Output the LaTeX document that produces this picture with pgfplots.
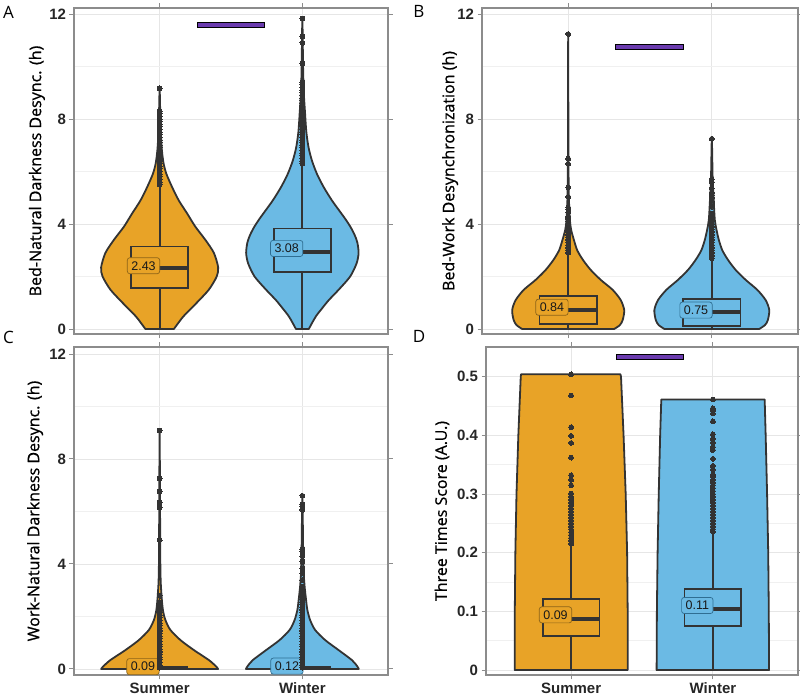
\documentclass[border=0pt]{standalone}
\usepackage{fontspec}
\setmainfont{Open Sans}
\newfontfamily\arialfam{Liberation Sans}
\newfontfamily\labfam[FakeBold=0.8]{Open Sans}
\usepackage{pgfplots}
\pgfplotsset{compat=1.18}

\definecolor{sumc}{HTML}{E8A327}
\definecolor{winc}{HTML}{6BBAE4}
\definecolor{sumd}{HTML}{8C6418}
\definecolor{wind}{HTML}{2F6E92}
\definecolor{purp}{HTML}{6A3BAE}
\definecolor{dk}{HTML}{333333}
\definecolor{bordc}{HTML}{8C8C8C}
\definecolor{gridc}{HTML}{E6E6E6}
\definecolor{gridm}{HTML}{F0F0F0}

\newcommand\ticklab{\arialfam\bfseries\fontsize{15}{15}\selectfont}
\newcommand\labfont{\labfam\fontsize{16}{16}\selectfont}

\tikzset{
 vio/.style={draw=dk, line width=1.8pt, line join=round, smooth, tension=0.45},
 bx/.style={draw=dk, line width=1.8pt},
 wh/.style={draw=dk, line width=1.8pt},
 md/.style={draw=dk, line width=4pt},
 outl/.style={only marks, mark=*, mark size=2.4pt, mark options={draw=dk, fill=dk, line width=0pt}},
 lab/.style={font=\arialfam\fontsize{12.5}{12.5}\selectfont, rounded corners=2.5pt, inner xsep=4pt, inner ysep=3.6pt, line width=0.7pt, text=black!90},
 sig/.style={fill=purp, draw=black, line width=1pt},
}

\pgfplotsset{
 panel/.style={
  scale only axis, anchor=south west,
  xmin=0.4, xmax=2.6, xtick={1,2},
  axis line style={draw=bordc, line width=1.2pt},
  tick align=outside, major tick length=4.5pt, minor tick length=0pt,
  tick style={draw=bordc, line width=1pt},
  xmajorgrids, ymajorgrids, yminorgrids,
  major grid style={draw=gridc, line width=0.9pt},
  minor grid style={draw=gridm, line width=0.6pt},
  tick label style={font=\ticklab, text=black!85},
  /pgf/number format/assume math mode=true,
  ylabel style={font=\labfont, anchor=center},
 },
 hrs/.style={ytick={0,4,8,12}, minor ytick={2,6,10}},
}

\begin{document}
\begin{tikzpicture}
\useasboundingbox (0,0) rectangle (800pt,698pt);

% ---------------- Panel A ----------------
\begin{axis}[panel, hrs, at={(74pt,364pt)}, width=314pt, height=326pt,
  ymin=-0.19, ymax=12.23, xticklabels={,},
  ylabel={Bed-Natural Darkness Desync. (h)},
  ylabel style={at={(axis description cs:-0.118,0.5)}}]
\addplot[vio, fill=sumc] coordinates {(0.90,0) (0.835,0.47) (0.74,1.0) (0.655,1.5) (0.60,2.0) (0.59,2.35) (0.62,2.9) (0.68,3.4) (0.75,3.9) (0.807,4.4) (0.866,4.9) (0.912,5.4) (0.952,5.9) (0.972,6.3) (0.984,6.8) (0.992,7.5) (0.996,8.3) (1,9.17) (1.004,8.3) (1.008,7.5) (1.016,6.8) (1.028,6.3) (1.048,5.9) (1.088,5.4) (1.134,4.9) (1.193,4.4) (1.25,3.9) (1.32,3.4) (1.38,2.9) (1.41,2.35) (1.40,2.0) (1.345,1.5) (1.26,1.0) (1.165,0.47) (1.10,0)} -- cycle;
\addplot[vio, fill=winc] coordinates {(1.955,0) (1.93,0.25) (1.903,0.5) (1.86,0.8) (1.815,1.1) (1.745,1.5) (1.665,2.0) (1.62,2.5) (1.606,2.9) (1.615,3.3) (1.635,3.6) (1.664,3.9) (1.70,4.2) (1.74,4.5) (1.793,4.9) (1.85,5.4) (1.897,5.9) (1.932,6.4) (1.956,6.9) (1.972,7.5) (1.982,8.3) (1.99,9.0) (1.995,10) (2,11.85) (2.005,10) (2.01,9.0) (2.018,8.3) (2.028,7.5) (2.044,6.9) (2.068,6.4) (2.103,5.9) (2.15,5.4) (2.207,4.9) (2.26,4.5) (2.30,4.2) (2.336,3.9) (2.365,3.6) (2.385,3.3) (2.394,2.9) (2.38,2.5) (2.335,2.0) (2.255,1.5) (2.185,1.1) (2.14,0.8) (2.097,0.5) (2.07,0.25) (2.045,0)} -- cycle;
% whiskers
\addplot[wh] coordinates {(1,0) (1,1.55)};
\addplot[wh] coordinates {(1,3.14) (1,5.5)};
\addplot[wh] coordinates {(2,0) (2,2.18)};
\addplot[wh] coordinates {(2,3.83) (2,6.3)};
% boxes
\addplot[bx, fill=sumc] coordinates {(0.8,1.55) (1.2,1.55) (1.2,3.14) (0.8,3.14)} -- cycle;
\addplot[md] coordinates {(0.8,2.31) (1.2,2.31)};
\addplot[bx, fill=winc] coordinates {(1.8,2.18) (2.2,2.18) (2.2,3.83) (1.8,3.83)} -- cycle;
\addplot[md] coordinates {(1.8,2.95) (2.2,2.95)};
% outliers
\addplot[outl] coordinates {(1,5.5) (1,5.6) (1,5.7) (1,5.8) (1,5.9) (1,6.0) (1,6.1) (1,6.2) (1,6.3) (1,6.4) (1,6.5) (1,6.6) (1,6.7) (1,6.8) (1,6.9) (1,7.0) (1,7.1) (1,7.2) (1,7.3) (1,7.4) (1,7.5) (1,7.6) (1,7.7) (1,7.8) (1,7.9) (1,8.0) (1,8.1) (1,8.2) (1,8.3) (1,9.17)};
\addplot[outl] coordinates {(2,6.3) (2,6.4) (2,6.5) (2,6.6) (2,6.7) (2,6.8) (2,6.9) (2,7.0) (2,7.1) (2,7.2) (2,7.3) (2,7.4) (2,7.5) (2,7.6) (2,7.7) (2,7.8) (2,7.9) (2,8.0) (2,8.1) (2,8.2) (2,8.3) (2,8.4) (2,8.5) (2,8.6) (2,8.7) (2,8.8) (2,8.9) (2,9.0) (2,9.1) (2,9.2) (2,9.3) (2,9.4) (2,10.12) (2,10.9) (2,11.14) (2,11.83)};
% significance bar
\addplot[sig] coordinates {(1.265,11.48) (1.735,11.48) (1.735,11.68) (1.265,11.68)} -- cycle;
\node[lab, fill=sumc, draw=sumd] at (axis cs:0.887,2.41) {2.43};
\node[lab, fill=winc, draw=wind] at (axis cs:1.89,3.07) {3.08};
\end{axis}

% ---------------- Panel B ----------------
\begin{axis}[panel, hrs, at={(482pt,364pt)}, width=316pt, height=326pt,
  ymin=-0.19, ymax=12.23, xticklabels={,},
  ylabel={Bed-Work Desynchronization (h)},
  ylabel style={at={(axis description cs:-0.101,0.5)}}]
\addplot[vio, fill=sumc] coordinates {(0.68,0) (0.64,0.15) (0.62,0.35) (0.61,0.72) (0.634,1.1) (0.69,1.49) (0.773,1.87) (0.843,2.25) (0.897,2.63) (0.937,3.0) (0.96,3.39) (0.979,3.77) (0.988,4.15) (0.995,5.0) (0.998,6.5) (1,11.24) (1.002,6.5) (1.005,5.0) (1.012,4.15) (1.021,3.77) (1.04,3.39) (1.063,3.0) (1.103,2.63) (1.157,2.25) (1.227,1.87) (1.31,1.49) (1.366,1.1) (1.39,0.72) (1.38,0.35) (1.36,0.15) (1.32,0)} -- cycle;
\addplot[vio, fill=winc] coordinates {(1.67,0) (1.63,0.15) (1.61,0.34) (1.60,0.72) (1.625,1.1) (1.683,1.49) (1.764,1.87) (1.834,2.25) (1.887,2.63) (1.927,3.0) (1.951,3.39) (1.967,3.77) (1.979,4.15) (1.986,4.8) (1.994,5.7) (2,7.25) (2.006,5.7) (2.014,4.8) (2.021,4.15) (2.033,3.77) (2.049,3.39) (2.073,3.0) (2.113,2.63) (2.166,2.25) (2.236,1.87) (2.317,1.49) (2.375,1.1) (2.40,0.72) (2.39,0.34) (2.37,0.15) (2.33,0)} -- cycle;
\addplot[wh] coordinates {(1,0) (1,0.19)};
\addplot[wh] coordinates {(1,1.26) (1,2.85)};
\addplot[wh] coordinates {(2,0) (2,0.11)};
\addplot[wh] coordinates {(2,1.14) (2,2.69)};
\addplot[bx, fill=sumc] coordinates {(0.8,0.19) (1.2,0.19) (1.2,1.26) (0.8,1.26)} -- cycle;
\addplot[md] coordinates {(0.8,0.72) (1.2,0.72)};
\addplot[bx, fill=winc] coordinates {(1.8,0.11) (2.2,0.11) (2.2,1.14) (1.8,1.14)} -- cycle;
\addplot[md] coordinates {(1.8,0.63) (2.2,0.63)};
\addplot[outl] coordinates {(1,2.9) (1,3.0) (1,3.1) (1,3.2) (1,3.3) (1,3.4) (1,3.5) (1,3.6) (1,3.7) (1,3.8) (1,3.9) (1,4.0) (1,4.1) (1,4.2) (1,4.28) (1,4.45) (1,4.56) (1,4.63) (1,5.04) (1,5.40) (1,6.29) (1,6.49) (1,11.24)};
\addplot[outl] coordinates {(2,2.7) (2,2.8) (2,2.9) (2,3.0) (2,3.1) (2,3.2) (2,3.3) (2,3.4) (2,3.5) (2,3.6) (2,3.7) (2,3.8) (2,3.9) (2,4.0) (2,4.1) (2,4.2) (2,4.3) (2,4.4) (2,4.66) (2,4.85) (2,5.0) (2,5.1) (2,5.2) (2,5.36) (2,5.6) (2,5.71) (2,7.25)};
\addplot[sig] coordinates {(1.328,10.63) (1.80,10.63) (1.80,10.84) (1.328,10.84)} -- cycle;
\node[lab, fill=sumc, draw=sumd] at (axis cs:0.887,0.83) {0.84};
\node[lab, fill=winc, draw=wind] at (axis cs:1.89,0.72) {0.75};
\end{axis}

% ---------------- Panel C ----------------
\begin{axis}[panel, hrs, at={(74pt,23pt)}, width=314pt, height=328pt,
  ymin=-0.229, ymax=12.267, xticklabels={Summer,Winter},
  ylabel={Work-Natural Darkness Desync. (h)},
  ylabel style={at={(axis description cs:-0.124,0.5)}}]
\addplot[vio, fill=sumc] coordinates {(0.59,0) (0.605,0.1) (0.655,0.34) (0.76,0.72) (0.854,1.1) (0.925,1.49) (0.96,1.87) (0.977,2.25) (0.988,2.9) (0.995,4) (1,9.05) (1.005,4) (1.012,2.9) (1.023,2.25) (1.04,1.87) (1.075,1.49) (1.146,1.1) (1.24,0.72) (1.345,0.34) (1.395,0.1) (1.41,0)} -- cycle;
\addplot[vio, fill=winc] coordinates {(1.605,0) (1.615,0.1) (1.653,0.34) (1.746,0.72) (1.84,1.1) (1.911,1.49) (1.946,1.87) (1.965,2.25) (1.974,2.63) (1.985,3.2) (1.993,4) (2,6.6) (2.007,4) (2.015,3.2) (2.026,2.63) (2.035,2.25) (2.054,1.87) (2.089,1.49) (2.16,1.1) (2.254,0.72) (2.347,0.34) (2.385,0.1) (2.395,0)} -- cycle;
\addplot[md] coordinates {(0.8,0.03) (1.2,0.03)};
\addplot[md] coordinates {(1.8,0.03) (2.2,0.03)};
\addplot[outl] coordinates {(1,0.05) (1,0.15) (1,0.25) (1,0.35) (1,0.45) (1,0.55) (1,0.65) (1,0.75) (1,0.85) (1,0.95) (1,1.05) (1,1.15) (1,1.25) (1,1.35) (1,1.45) (1,1.55) (1,1.65) (1,1.75) (1,1.85) (1,1.95) (1,2.05) (1,2.15) (1,2.25) (1,2.35) (1,2.45) (1,2.55) (1,2.79) (1,4.91) (1,6.15) (1,6.34) (1,6.76) (1,7.26) (1,9.08)};
\addplot[outl] coordinates {(2,0.05) (2,0.15) (2,0.25) (2,0.35) (2,0.45) (2,0.55) (2,0.65) (2,0.75) (2,0.85) (2,0.95) (2,1.05) (2,1.15) (2,1.25) (2,1.35) (2,1.45) (2,1.55) (2,1.65) (2,1.75) (2,1.85) (2,1.95) (2,2.05) (2,2.15) (2,2.25) (2,2.35) (2,2.45) (2,2.55) (2,2.65) (2,2.75) (2,2.85) (2,2.95) (2,3.05) (2,3.14) (2,3.39) (2,3.64) (2,3.83) (2,4.09) (2,4.3) (2,4.47) (2,4.57) (2,6.06) (2,6.18) (2,6.27) (2,6.6)};
\node[lab, fill=sumc, draw=sumd] at (axis cs:0.883,0.09) {0.09};
\node[lab, fill=winc, draw=wind] at (axis cs:1.892,0.11) {0.12};
\end{axis}

% ---------------- Panel D ----------------
\begin{axis}[panel, at={(486pt,23pt)}, width=312pt, height=328pt,
  ymin=-0.0085, ymax=0.5506, xticklabels={Summer,Winter},
  ytick={0,0.1,0.2,0.3,0.4,0.5}, yticklabels={0,0.1,0.2,0.3,0.4,0.5},
  minor ytick={0.05,0.15,0.25,0.35,0.45,0.55},
  ylabel={Three Times Score (A.U.)},
  ylabel style={at={(axis description cs:-0.141,0.5)}}]
\addplot[draw=dk, line width=1.8pt, line join=round, fill=sumc] coordinates {(0.602,0) (0.603,0.1) (0.607,0.2) (0.615,0.3) (0.628,0.4) (0.645,0.5) (0.647,0.504) (1.348,0.504) (1.352,0.5) (1.37,0.4) (1.385,0.3) (1.395,0.2) (1.399,0.1) (1.40,0)} -- cycle;
\addplot[draw=dk, line width=1.8pt, line join=round, fill=winc] coordinates {(1.603,0) (1.605,0.1) (1.61,0.2) (1.618,0.3) (1.628,0.4) (1.636,0.461) (2.365,0.461) (2.372,0.4) (2.382,0.3) (2.39,0.2) (2.394,0.1) (2.396,0)} -- cycle;
\addplot[wh] coordinates {(1,0) (1,0.0585)};
\addplot[wh] coordinates {(1,0.121) (1,0.213)};
\addplot[wh] coordinates {(2,0) (2,0.075)};
\addplot[wh] coordinates {(2,0.1386) (2,0.236)};
\addplot[bx, fill=sumc] coordinates {(0.8,0.0585) (1.2,0.0585) (1.2,0.121) (0.8,0.121)} -- cycle;
\addplot[md] coordinates {(0.8,0.0864) (1.2,0.0864)};
\addplot[bx, fill=winc] coordinates {(1.8,0.075) (2.2,0.075) (2.2,0.1386) (1.8,0.1386)} -- cycle;
\addplot[md] coordinates {(1.8,0.1045) (2.2,0.1045)};
\addplot[outl] coordinates {(1,0.215) (1,0.22) (1,0.225) (1,0.23) (1,0.235) (1,0.24) (1,0.245) (1,0.25) (1,0.255) (1,0.26) (1,0.265) (1,0.27) (1,0.275) (1,0.28) (1,0.285) (1,0.29) (1,0.295) (1,0.301) (1,0.315) (1,0.324) (1,0.332) (1,0.362) (1,0.387) (1,0.399) (1,0.414) (1,0.468) (1,0.504)};
\addplot[outl] coordinates {(2,0.236) (2,0.24) (2,0.245) (2,0.25) (2,0.255) (2,0.26) (2,0.265) (2,0.27) (2,0.275) (2,0.28) (2,0.285) (2,0.29) (2,0.295) (2,0.30) (2,0.305) (2,0.31) (2,0.315) (2,0.32) (2,0.324) (2,0.33) (2,0.333) (2,0.342) (2,0.348) (2,0.36) (2,0.375) (2,0.38) (2,0.388) (2,0.394) (2,0.402) (2,0.424) (2,0.4375) (2,0.442) (2,0.446) (2,0.461)};
\addplot[sig] coordinates {(1.318,0.5295) (1.795,0.5295) (1.795,0.5386) (1.318,0.5386)} -- cycle;
\node[lab, fill=sumc, draw=sumd] at (axis cs:0.89,0.094) {0.09};
\node[lab, fill=winc, draw=wind] at (axis cs:1.89,0.11) {0.11};
\end{axis}

% panel letters
\node[font=\fontsize{17}{17}\selectfont] at (8.5pt,686pt) {A};
\node[font=\fontsize{17}{17}\selectfont] at (419pt,687pt) {B};
\node[font=\fontsize{17}{17}\selectfont] at (8.5pt,361pt) {C};
\node[font=\fontsize{17}{17}\selectfont] at (419pt,362pt) {D};
\end{tikzpicture}
\end{document}
